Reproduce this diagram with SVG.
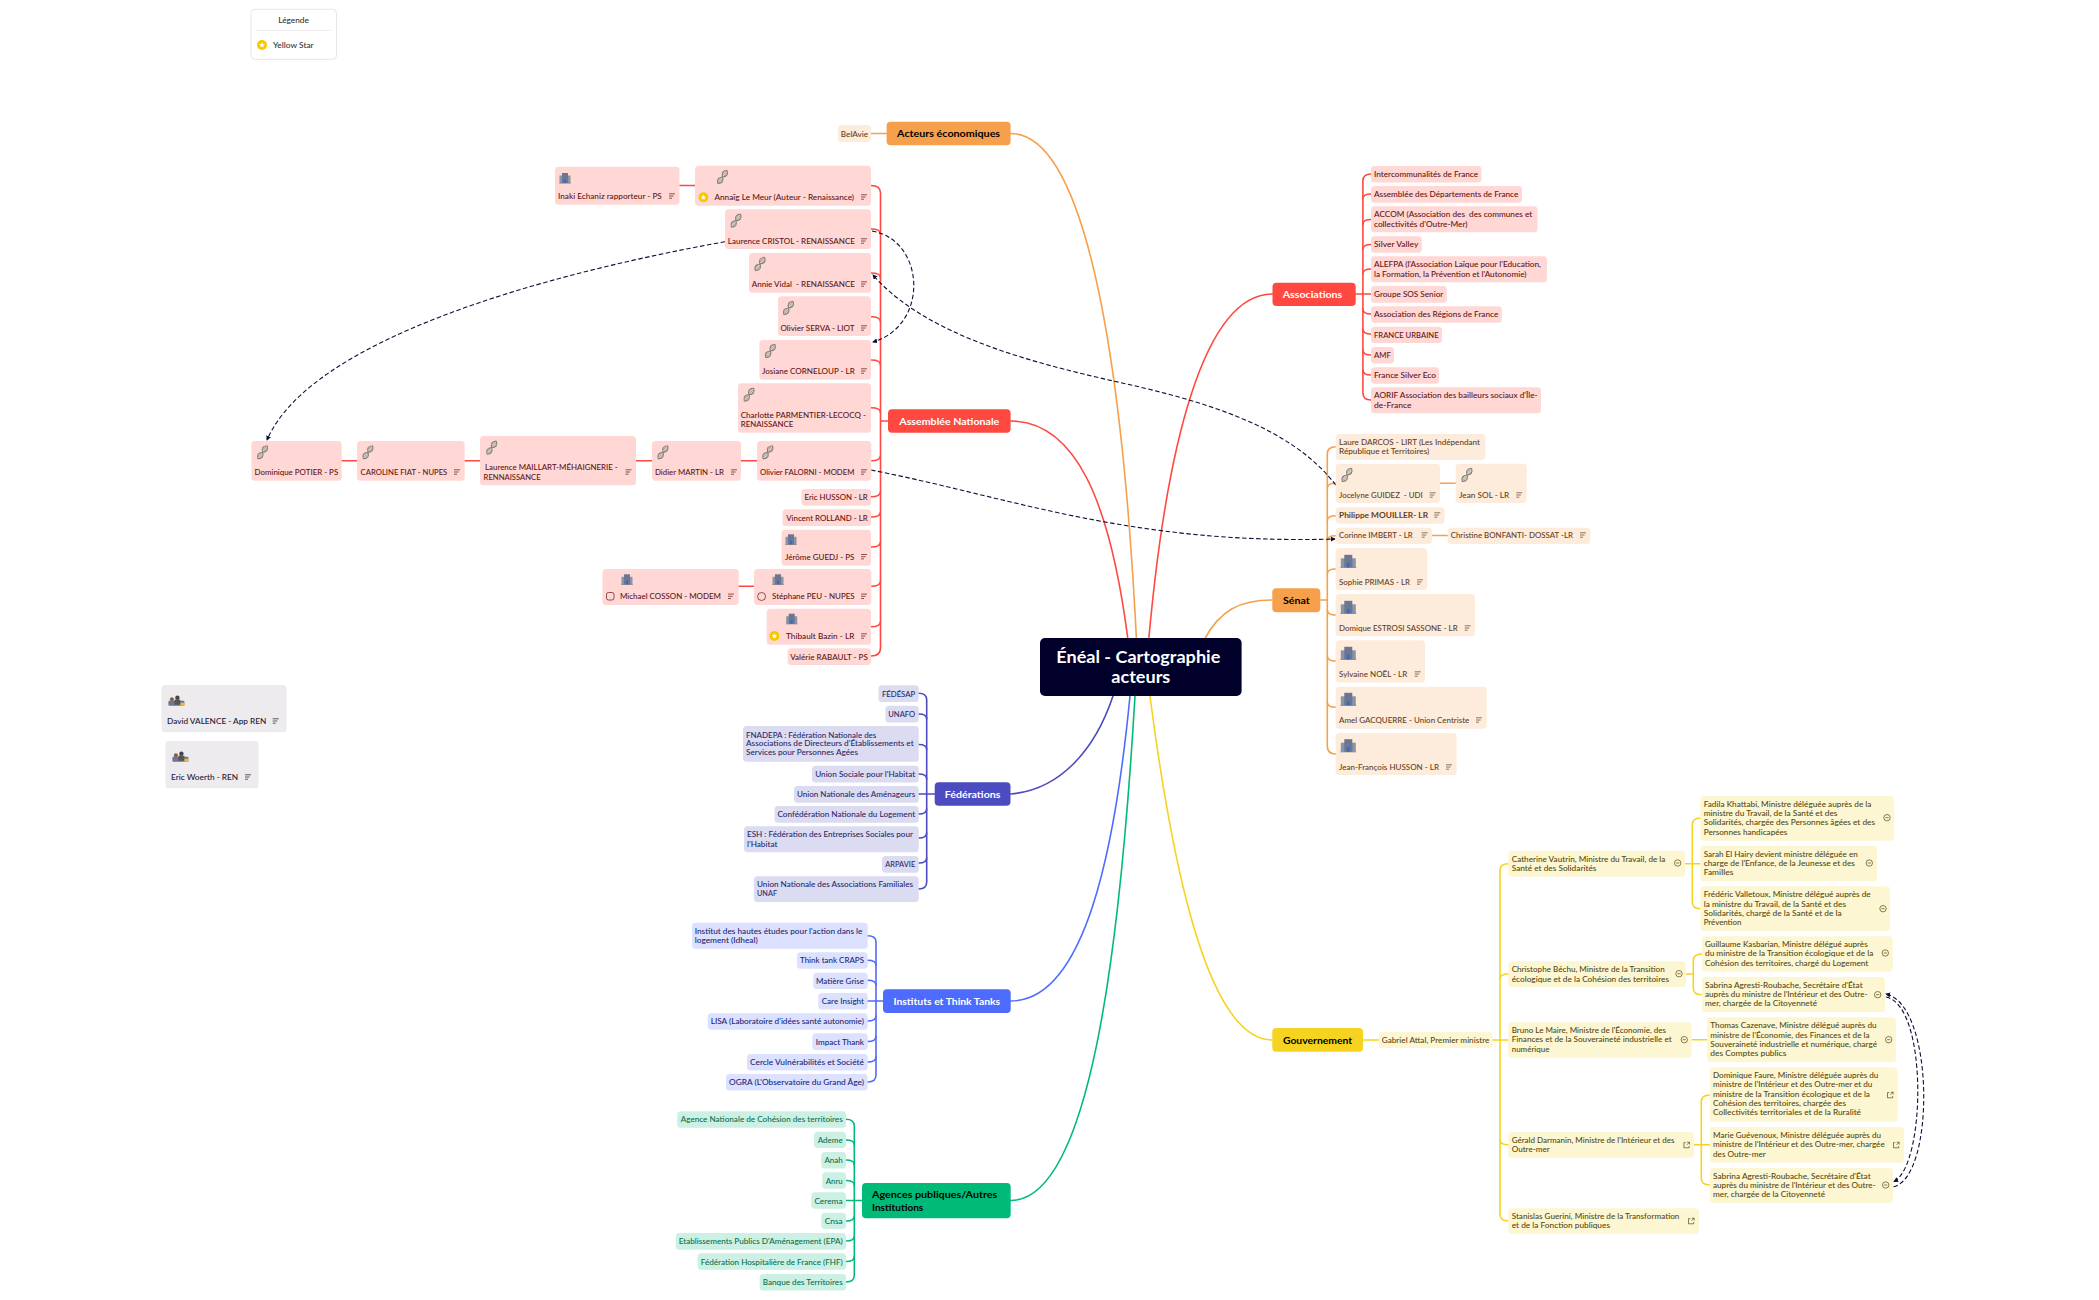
<svg xmlns="http://www.w3.org/2000/svg" width="2099" height="1300" viewBox="0 0 2099 1300">
<style>
text{font-family:"Lato","Noto Sans",sans-serif;dominant-baseline:central;font-size:7.6px;fill:currentColor;white-space:pre;font-weight:500}
.e{text-anchor:end}.c{text-anchor:middle}
.r>rect,.o>rect,.p>rect,.b>rect,.g>rect,.y>rect,.k>rect{rx:3.5px}
.r{color:#5e1414}.r>rect{fill:#ffd8d6}
.o{color:#63401c}.o>rect{fill:#fdecdc}
.p{color:#2a2968}.p>rect{fill:#dbdbf2}
.b{color:#1c2574}.b>rect{fill:#dbe1ff}
.g{color:#0c6e4a}.g>rect{fill:#ccf1e4}
.y{color:#544910}.y>rect{fill:#fdf6d3}
.k{color:#181838}.k>rect{fill:#edebee}
.main text{font-size:9.6px;font-weight:700}
.main rect{rx:4px}
.w{color:#fff}.d{color:#000}
.root rect{fill:#00002a;rx:5px}
.root text{font-size:17.5px;font-weight:700;fill:#fff}
.lines path{fill:none;stroke-width:1.6;stroke-linecap:round}
.lr path{stroke:#ff4940}.lo path{stroke:#f7a04b}.lp path{stroke:#4c4bbf}.lb path{stroke:#4e6bff}.lg path{stroke:#00bb77}.ly path{stroke:#f6d320}
.dash path{fill:none;stroke:#0e0e38;stroke-width:1.1;stroke-dasharray:4.5 2.5;marker-end:url(#a)}
.ic{fill:none;stroke:currentColor;stroke-width:.7}
</style>
<defs>
<marker id="a" viewBox="0 0 6 6" refX="5" refY="3" markerWidth="5" markerHeight="5" markerUnits="userSpaceOnUse" orient="auto"><path d="M0,0L6,3L0,6z" fill="#0e0e38"/></marker>
<g id="n" class="ic"><path d="M-3,-2.2h6M-3,0h4.6M-3,2.2h3"/></g>
<g id="m" class="ic"><circle r="3.2"/><path d="M-1.6,0h3.2"/></g>
<g id="x" class="ic"><path d="M-1,-2.4h-1.8v5.2h5.2v-1.8M.5,-2.8h2.3v2.3M2.8,-2.8l-2.6,2.6"/></g>
<g id="s"><circle r="5" fill="#f5c800"/><path d="M0,-2.8L.8,-.9L2.8,-.8L1.2,.5L1.7,2.4L0,1.4L-1.7,2.4L-1.2,.5L-2.8,-.8L-.8,-.9z" fill="#fff"/></g>
<g id="dna" transform="rotate(-55)"><path d="M-8,0Q-4,-5 0,0T8,0M-8,0Q-4,5 0,0T8,0" fill="none" stroke="#80807a" stroke-width="1.2"/><path d="M-5.5,-2.3V2.3M-4,-2.8V2.8M-2.5,-2.3V2.3M2.5,-2.3V2.3M4,-2.8V2.8M5.5,-2.3V2.3" fill="none" stroke="#9a9a92" stroke-width=".8"/></g>
<g id="bs"><rect x="-5.5" y="-2.5" width="11" height="7.5" fill="#8a94a6"/><rect x="-3" y="-5" width="6" height="10" fill="#6b7690"/><rect x="-1" y="1.5" width="2" height="3.5" fill="#3366dd"/><path d="M-5.8,5.2h11.6" stroke="#666" stroke-width=".6"/></g>
<g id="bl"><rect x="-7.5" y="-3" width="15" height="9" fill="#8a94a6"/><rect x="-4" y="-6.5" width="8" height="12.5" fill="#6b7690"/><rect x="-1.2" y="1.5" width="2.4" height="4.5" fill="#3366dd"/><path d="M-8,6.2h16" stroke="#666" stroke-width=".6"/></g>
<g id="pp"><rect x="-8" y="0" width="16" height="5" rx="1" fill="#6b7690"/><circle cx="-4.5" cy="-1.5" r="2" fill="#8a5a44"/><circle cx="1" cy="-3" r="2.2" fill="#444"/><rect x="-2" y="-1" width="6" height="5" fill="#555"/><rect x="4" y="2" width="4" height="3" fill="#f5b82e"/></g>
</defs>

<g id="connectors">
<g class="lines">
<g class="lo"><path d="M1010.6,133.5C1075,133.5 1120,300 1137,650"/><path d="M1272.3,600C1240,600 1220,610 1204,640"/><path d="M871,133.5H886.6"/>
<path d="M1320.3,600H1327.3"/><path d="M1335.7,446.7Q1327.3,446.7 1327.3,454V746Q1327.3,754 1335.7,754"/><path d="M1335.7,483.3q-8.4,0 -8.4,5"/><path d="M1335.7,515.7q-8.4,0 -8.4,5"/><path d="M1335.7,535.7q-8.4,0 -8.4,5"/><path d="M1335.7,569q-8.4,0 -8.4,5"/><path d="M1335.7,615q-8.4,0 -8.4,-5"/><path d="M1335.7,661q-8.4,0 -8.4,-5"/><path d="M1335.7,707.3q-8.4,0 -8.4,-5"/><path d="M1440,483.3H1455.7"/><path d="M1432,535.5H1447.7"/></g>
<g class="lr"><path d="M1010.6,421C1075,421 1110,500 1128,640"/><path d="M1272.5,294C1205,294 1165,440 1147,660"/>
<path d="M880.5,421H888"/><path d="M871,185.5Q880.5,185.5 880.5,193V648Q880.5,656 871,656"/><path d="M871,229q9.5,0 9.5,5"/><path d="M871,273q9.5,0 9.5,5"/><path d="M871,316.7q9.5,0 9.5,5"/><path d="M871,360q9.5,0 9.5,5"/><path d="M871,407.7q9.5,0 9.5,5"/><path d="M871,460.7q9.5,0 9.5,-5"/><path d="M871,496.7q9.5,0 9.5,-5"/><path d="M871,517q9.5,0 9.5,-5"/><path d="M871,547q9.5,0 9.5,-5"/><path d="M871,586.3q9.5,0 9.5,-5"/><path d="M871,626.7q9.5,0 9.5,-5"/>
<path d="M679.5,185.5H695"/><path d="M341.7,460.7H357"/><path d="M464.7,460.7H480"/><path d="M636,460.7H652"/><path d="M741,460.7H757"/><path d="M738.7,586.3H754"/>
<path d="M1355.7,294H1371"/><path d="M1371,174Q1362.9,174 1362.9,181V393Q1362.9,400 1371,400"/><path d="M1371,194q-8.1,0 -8.1,5"/><path d="M1371,219.5q-8.1,0 -8.1,5"/><path d="M1371,244.5q-8.1,0 -8.1,5"/><path d="M1371,269q-8.1,0 -8.1,5"/><path d="M1371,314q-8.1,0 -8.1,-5"/><path d="M1371,334q-8.1,0 -8.1,-5"/><path d="M1371,355q-8.1,0 -8.1,-5"/><path d="M1371,375q-8.1,0 -8.1,-5"/></g>
<g class="lp"><path d="M1010.5,794C1060,790 1095,750 1113,696"/><path d="M918.7,794H934.7"/><path d="M918.7,693.3Q926.7,693.3 926.7,700V882Q926.7,889 918.7,889"/><path d="M918.7,714q8,0 8,5"/><path d="M918.7,744.5q8,0 8,5"/><path d="M918.7,774q8,0 8,5"/><path d="M918.7,814q8,0 8,-5"/><path d="M918.7,838q8,0 8,-5"/><path d="M918.7,863q8,0 8,-5"/></g>
<g class="lb"><path d="M1010.7,1001C1085,1001 1115,850 1130,696"/><path d="M867.7,1001H883"/><path d="M867.7,935.7Q876,935.7 876,942V1075Q876,1082 867.7,1082"/><path d="M867.7,960.3q8.3,0 8.3,5"/><path d="M867.7,980.3q8.3,0 8.3,5"/><path d="M867.7,1021q8.3,0 8.3,-5"/><path d="M867.7,1041.5q8.3,0 8.3,-5"/><path d="M867.7,1062q8.3,0 8.3,-5"/></g>
<g class="lg"><path d="M1010.7,1200.5C1090,1200 1120,950 1135,696"/><path d="M846,1200.5H862"/><path d="M846,1119.3Q854.3,1119.3 854.3,1126V1275Q854.3,1282 846,1282"/><path d="M846,1140q8.3,0 8.3,5"/><path d="M846,1160q8.3,0 8.3,5"/><path d="M846,1180.5q8.3,0 8.3,5"/><path d="M846,1221q8.3,0 8.3,-5"/><path d="M846,1241q8.3,0 8.3,-5"/><path d="M846,1261.5q8.3,0 8.3,-5"/></g>
<g class="ly"><path d="M1272.3,1040C1205,1040 1170,850 1150,696"/><path d="M1363,1040H1378.7"/><path d="M1492.7,1040H1508.3"/><path d="M1508.3,863.7Q1500,863.7 1500,870V1214Q1500,1221 1508.3,1221"/><path d="M1508.3,974q-8.3,0 -8.3,5"/><path d="M1508.3,1144.7q-8.3,0 -8.3,-5"/>
<path d="M1685,863.7H1700.3"/><path d="M1700.3,818Q1692.3,818 1692.3,825V902Q1692.3,908.7 1700.3,908.7"/>
<path d="M1686,974H1693.3"/><path d="M1701.7,954Q1693.3,954 1693.3,961V988Q1693.3,994.7 1701.7,994.7"/>
<path d="M1691.7,1039.7H1707"/>
<path d="M1694,1144.7H1709.7"/><path d="M1709.7,1095Q1701.3,1095 1701.3,1102V1178Q1701.3,1185 1709.7,1185"/></g>
</g>
<g class="dash">
<path d="M725,241.7C540,275 310,340 267,440"/>
<path d="M872,231C925,240 930,325 873,342"/>
<path d="M1335.7,485C1290,425 1200,400 1112,380.7C1030,362 925,335 873,275"/>
<path d="M871,470C1010,497 1130,545 1335,539"/>
<path d="M1893.5,1186.7C1935,1178 1935,1005 1886,994"/>
<path d="M1886,997C1928,1005 1926,1165 1894,1181.5"/>
</g>
</g>

<g id="legend"><rect x="251" y="9.3" width="85.5" height="50" rx="4" fill="#fff" stroke="#e6e6e6" stroke-width="1"/><path d="M256,30.5H331" stroke="#eeeeee" stroke-width="1"/><text x="293.5" y="20" class="c" style="color:#333" textLength="30.6" lengthAdjust="spacingAndGlyphs">Légende</text><use href="#s" x="262" y="45"/><text x="273" y="45" style="color:#333" textLength="40.7" lengthAdjust="spacingAndGlyphs">Yellow Star</text></g>

<g id="root" class="root"><rect x="1040" y="638" width="201.6" height="58"/><text x="1138.3" y="656" class="c" textLength="164" lengthAdjust="spacingAndGlyphs">Énéal - Cartographie</text><text x="1140.8" y="676" class="c" textLength="59" lengthAdjust="spacingAndGlyphs">acteurs</text></g>

<g id="acteurs" class="main d"><rect x="886.6" y="121.7" width="124" height="23.6" style="fill:#f7a04b"/><text x="948.6" y="133.5" class="c" textLength="103" lengthAdjust="spacingAndGlyphs">Acteurs économiques</text></g>
<g id="belavie" class="o"><rect x="838" y="125" width="33" height="17"/><text x="854.5" y="133.5" class="c" textLength="27.3" lengthAdjust="spacingAndGlyphs">BelAvie</text></g>

<g id="assemblee" class="main w"><rect x="888" y="409.3" width="122.6" height="23.4" style="fill:#ff4940"/><text x="949.3" y="421" class="c" textLength="100" lengthAdjust="spacingAndGlyphs">Assemblée Nationale</text></g>
<g id="echaniz" class="r"><rect x="555" y="166.7" width="124.5" height="38"/><use href="#bs" x="565" y="178"/><text x="558" y="196" textLength="103.8" lengthAdjust="spacingAndGlyphs">Inaki Echaniz rapporteur - PS</text><use href="#n" x="672" y="196"/></g>
<g id="lemeur" class="r"><rect x="695" y="165.7" width="176" height="40"/><use href="#dna" x="722.5" y="177"/><use href="#s" x="703.4" y="197.3"/><text x="714.4" y="197" textLength="139.7" lengthAdjust="spacingAndGlyphs">Annaïg Le Meur (Auteur - Renaissance)</text><use href="#n" x="864" y="197"/></g>
<g id="cristol" class="r"><rect x="725" y="209.3" width="146" height="39.7"/><use href="#dna" x="736" y="220.7"/><text x="727.8" y="241" textLength="127.2" lengthAdjust="spacingAndGlyphs">Laurence CRISTOL - RENAISSANCE</text><use href="#n" x="864" y="241"/></g>
<g id="vidal" class="r"><rect x="749" y="253" width="122" height="39.7"/><use href="#dna" x="760" y="264"/><text x="751.7" y="284" textLength="103.3" lengthAdjust="spacingAndGlyphs">Annie Vidal  - RENAISSANCE</text><use href="#n" x="864" y="284"/></g>
<g id="serva" class="r"><rect x="778" y="296.3" width="93" height="39.7"/><use href="#dna" x="788.5" y="308"/><text x="780.4" y="328" textLength="74.1" lengthAdjust="spacingAndGlyphs">Olivier SERVA - LIOT</text><use href="#n" x="864" y="328"/></g>
<g id="corneloup" class="r"><rect x="759.4" y="340" width="111.6" height="39.7"/><use href="#dna" x="770.4" y="351"/><text x="762" y="371" textLength="92.8" lengthAdjust="spacingAndGlyphs">Josiane CORNELOUP - LR</text><use href="#n" x="864" y="371"/></g>
<g id="parmentier" class="r"><rect x="738" y="383.3" width="133" height="49.4"/><use href="#dna" x="749" y="394.7"/><text x="740.7" y="415" textLength="125.3" lengthAdjust="spacingAndGlyphs">Charlotte PARMENTIER-LECOCQ -</text><text x="740.7" y="424.3" textLength="52.6" lengthAdjust="spacingAndGlyphs">RENAISSANCE</text></g>
<g id="potier" class="r"><rect x="251.4" y="441" width="90.3" height="39.7"/><use href="#dna" x="262.6" y="452.3"/><text x="254.5" y="472" textLength="83.7" lengthAdjust="spacingAndGlyphs">Dominique POTIER - PS</text></g>
<g id="fiat" class="r"><rect x="357" y="441" width="107.7" height="39.7"/><use href="#dna" x="368" y="452.3"/><text x="360.6" y="472" textLength="86.7" lengthAdjust="spacingAndGlyphs">CAROLINE FIAT - NUPES</text><use href="#n" x="457" y="472"/></g>
<g id="maillart" class="r"><rect x="480" y="436" width="156" height="49.3"/><use href="#dna" x="491.7" y="447.7"/><text x="485" y="467" textLength="132.7" lengthAdjust="spacingAndGlyphs">Laurence MAILLART-MÉHAIGNERIE -</text><text x="483.6" y="477" textLength="57" lengthAdjust="spacingAndGlyphs">RENNAISSANCE</text><use href="#n" x="628.5" y="472"/></g>
<g id="martin" class="r"><rect x="652" y="441" width="89" height="39.7"/><use href="#dna" x="663" y="452.3"/><text x="655" y="472" textLength="68.9" lengthAdjust="spacingAndGlyphs">Didier MARTIN - LR</text><use href="#n" x="734" y="472"/></g>
<g id="falorni" class="r"><rect x="757" y="441" width="114.3" height="39.7"/><use href="#dna" x="767.8" y="452.3"/><text x="760" y="472" textLength="94.4" lengthAdjust="spacingAndGlyphs">Olivier FALORNI - MODEM</text><use href="#n" x="864" y="472"/></g>
<g id="husson" class="r"><rect x="801.4" y="489" width="69.6" height="16.7"/><text x="804.5" y="497.3" textLength="63.3" lengthAdjust="spacingAndGlyphs">Eric HUSSON - LR</text></g>
<g id="rolland" class="r"><rect x="782.5" y="509.3" width="88.5" height="16.7"/><text x="786.2" y="517.6" textLength="81.6" lengthAdjust="spacingAndGlyphs">Vincent ROLLAND - LR</text></g>
<g id="guedj" class="r"><rect x="781.5" y="529.7" width="89.5" height="36"/><use href="#bs" x="791" y="539.3"/><text x="785" y="556.7" textLength="69.4" lengthAdjust="spacingAndGlyphs">Jérôme GUEDJ - PS</text><use href="#n" x="864" y="556.7"/></g>
<g id="cosson" class="r"><rect x="602.4" y="569" width="136.3" height="36"/><use href="#bs" x="627" y="579.3"/><rect x="606.5" y="592.5" width="7.5" height="7.5" class="ic" style="fill:none;rx:2px"/><text x="620" y="596.3" textLength="101" lengthAdjust="spacingAndGlyphs">Michael COSSON - MODEM</text><use href="#n" x="731" y="596.3"/></g>
<g id="peu" class="r"><rect x="754" y="569" width="117.3" height="36"/><use href="#bs" x="778" y="579.3"/><circle cx="761.6" cy="596.5" r="4" class="ic"/><text x="772" y="596.3" textLength="82.7" lengthAdjust="spacingAndGlyphs">Stéphane PEU - NUPES</text><use href="#n" x="864" y="596.3"/></g>
<g id="bazin" class="r"><rect x="766.7" y="608.7" width="104.3" height="36"/><use href="#bs" x="791.7" y="618.7"/><use href="#s" x="774.4" y="636"/><text x="786" y="636" textLength="68.4" lengthAdjust="spacingAndGlyphs">Thibault Bazin - LR</text><use href="#n" x="864" y="636"/></g>
<g id="rabault" class="r"><rect x="787.6" y="648.3" width="83.4" height="16.7"/><text x="790.2" y="656.6" textLength="77.6" lengthAdjust="spacingAndGlyphs">Valérie RABAULT - PS</text></g>

<g id="valence" class="k"><rect x="161.5" y="685" width="125.1" height="47.3"/><use href="#pp" x="176.4" y="700.7"/><text x="167" y="721" textLength="99.3" lengthAdjust="spacingAndGlyphs">David VALENCE - App REN</text><use href="#n" x="275.7" y="721"/></g>
<g id="woerth" class="k"><rect x="165.5" y="741" width="93" height="47.3"/><use href="#pp" x="180.4" y="756.7"/><text x="171" y="777" textLength="67.2" lengthAdjust="spacingAndGlyphs">Eric Woerth - REN</text><use href="#n" x="248" y="777"/></g>

<g id="federations" class="main w"><rect x="934.7" y="782.3" width="75.8" height="23.4" style="fill:#4c4bbf"/><text x="972.6" y="794" class="c" textLength="55.7" lengthAdjust="spacingAndGlyphs">Fédérations</text></g>
<g id="fedesap" class="p"><rect x="878.5" y="685.3" width="40.2" height="16.7"/><text x="881.9" y="693.6" textLength="33.3" lengthAdjust="spacingAndGlyphs">FÉDÉSAP</text></g>
<g id="unafo" class="p"><rect x="885.4" y="705.7" width="33.3" height="16.7"/><text x="888.2" y="714" textLength="27" lengthAdjust="spacingAndGlyphs">UNAFO</text></g>
<g id="fnadepa" class="p"><rect x="743" y="726" width="175.7" height="35.7"/><text x="746" y="734.7" textLength="130.3" lengthAdjust="spacingAndGlyphs">FNADEPA : Fédération Nationale des</text><text x="746" y="743.3" textLength="167.6" lengthAdjust="spacingAndGlyphs">Associations de Directeurs d'Établissements et</text><text x="746" y="752.3" textLength="112" lengthAdjust="spacingAndGlyphs">Services pour Personnes Agées</text></g>
<g id="ush" class="p"><rect x="812" y="765.7" width="106.7" height="16.7"/><text x="815.2" y="774" textLength="100" lengthAdjust="spacingAndGlyphs">Union Sociale pour l'Habitat</text></g>
<g id="unam" class="p"><rect x="794" y="786" width="124.7" height="16.7"/><text x="796.9" y="794.3" textLength="118.3" lengthAdjust="spacingAndGlyphs">Union Nationale des Aménageurs</text></g>
<g id="cnl" class="p"><rect x="774.6" y="806" width="144.1" height="16.7"/><text x="777.4" y="814.3" textLength="137.8" lengthAdjust="spacingAndGlyphs">Confédération Nationale du Logement</text></g>
<g id="esh" class="p"><rect x="744" y="826.3" width="174.7" height="26"/><text x="747" y="834.3" textLength="166" lengthAdjust="spacingAndGlyphs">ESH : Fédération des Entreprises Sociales pour</text><text x="747" y="844" textLength="30.4" lengthAdjust="spacingAndGlyphs">l'Habitat</text></g>
<g id="arpavie" class="p"><rect x="882" y="856" width="36.7" height="16.7"/><text x="885.3" y="864.3" textLength="29.9" lengthAdjust="spacingAndGlyphs">ARPAVIE</text></g>
<g id="unaf" class="p"><rect x="754" y="876.3" width="164.7" height="25.7"/><text x="757" y="884.3" textLength="156" lengthAdjust="spacingAndGlyphs">Union Nationale des Associations Familiales</text><text x="757" y="893.3" textLength="20" lengthAdjust="spacingAndGlyphs">UNAF</text></g>

<g id="instituts" class="main w"><rect x="883" y="989.3" width="127.7" height="23.7" style="fill:#4e6bff"/><text x="946.8" y="1001" class="c" textLength="106.7" lengthAdjust="spacingAndGlyphs">Instituts et Think Tanks</text></g>
<g id="idheal" class="b"><rect x="692" y="922.7" width="175.7" height="26"/><text x="694.7" y="931" textLength="167.7" lengthAdjust="spacingAndGlyphs">Institut des hautes études pour l'action dans le</text><text x="694.7" y="940" textLength="63" lengthAdjust="spacingAndGlyphs">logement (Idheal)</text></g>
<g id="craps" class="b"><rect x="797" y="952.3" width="70.7" height="16.4"/><text x="800" y="960.3" textLength="64" lengthAdjust="spacingAndGlyphs">Think tank CRAPS</text></g>
<g id="matiere" class="b"><rect x="813.3" y="972.7" width="54.4" height="16.4"/><text x="816" y="980.5" textLength="48" lengthAdjust="spacingAndGlyphs">Matière Grise</text></g>
<g id="care" class="b"><rect x="818.3" y="993" width="49.4" height="16.4"/><text x="821.7" y="1001" textLength="42.3" lengthAdjust="spacingAndGlyphs">Care Insight</text></g>
<g id="lisa" class="b"><rect x="707.7" y="1013.3" width="160" height="16.4"/><text x="710.7" y="1021.3" textLength="153.3" lengthAdjust="spacingAndGlyphs">LISA (Laboratoire d'idées santé autonomie)</text></g>
<g id="impact" class="b"><rect x="812.3" y="1033.3" width="55.4" height="16.7"/><text x="815.7" y="1041.5" textLength="48.3" lengthAdjust="spacingAndGlyphs">Impact Thank</text></g>
<g id="cercle" class="b"><rect x="747" y="1054" width="120.7" height="16.4"/><text x="750" y="1062" textLength="114" lengthAdjust="spacingAndGlyphs">Cercle Vulnérabilités et Société</text></g>
<g id="ogra" class="b"><rect x="726" y="1074" width="141.7" height="16.4"/><text x="729" y="1082" textLength="135" lengthAdjust="spacingAndGlyphs">OGRA (L'Observatoire du Grand Âge)</text></g>

<g id="agences" class="main d"><rect x="862" y="1183" width="148.7" height="35.3" style="fill:#00bb77"/><text x="872" y="1194.3" textLength="125.3" lengthAdjust="spacingAndGlyphs">Agences publiques/Autres</text><text x="872" y="1207.3" textLength="51.3" lengthAdjust="spacingAndGlyphs">Institutions</text></g>
<g id="anct" class="g"><rect x="677.3" y="1111.3" width="168.7" height="16.4"/><text x="680.7" y="1119.3" textLength="162" lengthAdjust="spacingAndGlyphs">Agence Nationale de Cohésion des territoires</text></g>
<g id="ademe" class="g"><rect x="814" y="1131.7" width="32" height="16.4"/><text x="817.7" y="1139.7" textLength="25" lengthAdjust="spacingAndGlyphs">Ademe</text></g>
<g id="anah" class="g"><rect x="821.3" y="1152" width="24.7" height="16.4"/><text x="824.4" y="1160" textLength="18.3" lengthAdjust="spacingAndGlyphs">Anah</text></g>
<g id="anru" class="g"><rect x="822.3" y="1172.3" width="23.7" height="16.4"/><text x="825.7" y="1180.5" textLength="17" lengthAdjust="spacingAndGlyphs">Anru</text></g>
<g id="cerema" class="g"><rect x="811.3" y="1192.3" width="34.7" height="16.4"/><text x="814.4" y="1200.5" textLength="28.3" lengthAdjust="spacingAndGlyphs">Cerema</text></g>
<g id="cnsa" class="g"><rect x="821.3" y="1212.7" width="24.7" height="16.4"/><text x="824.7" y="1221" textLength="18" lengthAdjust="spacingAndGlyphs">Cnsa</text></g>
<g id="epa" class="g"><rect x="675.7" y="1233" width="170.3" height="16.7"/><text x="678.7" y="1241" textLength="164" lengthAdjust="spacingAndGlyphs">Etablissements Publics D'Aménagement (EPA)</text></g>
<g id="fhf" class="g"><rect x="697.7" y="1253.3" width="148.3" height="16.4"/><text x="700.7" y="1261.5" textLength="142" lengthAdjust="spacingAndGlyphs">Fédération Hospitalière de France (FHF)</text></g>
<g id="banque" class="g"><rect x="759.7" y="1274" width="86.3" height="16.4"/><text x="762.7" y="1282" textLength="80" lengthAdjust="spacingAndGlyphs">Banque des Territoires</text></g>

<g id="associations" class="main w"><rect x="1272.5" y="282.7" width="83.2" height="23.3" style="fill:#ff4940"/><text x="1312.5" y="294" class="c" textLength="59.6" lengthAdjust="spacingAndGlyphs">Associations</text></g>
<g id="intercom" class="r"><rect x="1371" y="166" width="110.4" height="16.4"/><text x="1374" y="174" textLength="104" lengthAdjust="spacingAndGlyphs">Intercommunalités de France</text></g>
<g id="adf" class="r"><rect x="1371" y="186" width="151" height="16.7"/><text x="1374" y="194" textLength="144.3" lengthAdjust="spacingAndGlyphs">Assemblée des Départements de France</text></g>
<g id="accom" class="r"><rect x="1371" y="206.3" width="166.5" height="26"/><text x="1374" y="214" textLength="158.2" lengthAdjust="spacingAndGlyphs">ACCOM (Association des  des communes et</text><text x="1374" y="224" textLength="93.6" lengthAdjust="spacingAndGlyphs">collectivités d'Outre-Mer)</text></g>
<g id="silver" class="r"><rect x="1371" y="236.3" width="50.8" height="16.4"/><text x="1374" y="244" textLength="44.3" lengthAdjust="spacingAndGlyphs">Silver Valley</text></g>
<g id="alefpa" class="r"><rect x="1371" y="256.3" width="176" height="26"/><text x="1374" y="264" textLength="167" lengthAdjust="spacingAndGlyphs">ALEFPA (l'Association Laïque pour l'Education,</text><text x="1374" y="274" textLength="152.5" lengthAdjust="spacingAndGlyphs">la Formation, la Prévention et l'Autonomie)</text></g>
<g id="sos" class="r"><rect x="1371" y="286" width="75.8" height="16.7"/><text x="1374" y="294" textLength="69.3" lengthAdjust="spacingAndGlyphs">Groupe SOS Senior</text></g>
<g id="regions" class="r"><rect x="1371" y="306.3" width="130.8" height="16.4"/><text x="1374" y="314" textLength="124.3" lengthAdjust="spacingAndGlyphs">Association des Régions de France</text></g>
<g id="urbaine" class="r"><rect x="1371" y="326.7" width="71" height="16.4"/><text x="1374" y="335" textLength="64.6" lengthAdjust="spacingAndGlyphs">FRANCE URBAINE</text></g>
<g id="amf" class="r"><rect x="1371" y="347" width="23" height="16.4"/><text x="1374" y="355" textLength="16.8" lengthAdjust="spacingAndGlyphs">AMF</text></g>
<g id="silvereco" class="r"><rect x="1371" y="367.3" width="68" height="16.4"/><text x="1374" y="375" textLength="62" lengthAdjust="spacingAndGlyphs">France Silver Eco</text></g>
<g id="aorif" class="r"><rect x="1371" y="387.3" width="170" height="26"/><text x="1374" y="395" textLength="163.6" lengthAdjust="spacingAndGlyphs">AORIF Association des bailleurs sociaux d'Île-</text><text x="1374" y="405" textLength="37.5" lengthAdjust="spacingAndGlyphs">de-France</text></g>

<g id="senat" class="main d"><rect x="1272.3" y="588.3" width="48" height="24" style="fill:#f7a04b"/><text x="1296.3" y="600" class="c" textLength="26.7" lengthAdjust="spacingAndGlyphs">Sénat</text></g>
<g id="darcos" class="o"><rect x="1335.7" y="434" width="149.6" height="26"/><text x="1339" y="442.3" textLength="141" lengthAdjust="spacingAndGlyphs">Laure DARCOS - LIRT (Les Indépendant</text><text x="1339" y="451" textLength="90.3" lengthAdjust="spacingAndGlyphs">République et Territoires)</text></g>
<g id="guidez" class="o"><rect x="1335.7" y="463.7" width="104.3" height="39.3"/><use href="#dna" x="1347" y="475"/><text x="1339" y="495" textLength="83.7" lengthAdjust="spacingAndGlyphs">Jocelyne GUIDEZ  - UDI</text><use href="#n" x="1432.7" y="495"/></g>
<g id="sol" class="o"><rect x="1455.7" y="463.7" width="71" height="39.3"/><use href="#dna" x="1467" y="475"/><text x="1459" y="495" textLength="50.3" lengthAdjust="spacingAndGlyphs">Jean SOL - LR</text><use href="#n" x="1519.3" y="495"/></g>
<g id="mouiller" class="o"><rect x="1335.7" y="507.3" width="109" height="16.4"/><text x="1339" y="515" style="font-weight:700" textLength="89" lengthAdjust="spacingAndGlyphs">Philippe MOUILLER- LR</text><use href="#n" x="1437.3" y="515"/></g>
<g id="imbert" class="o"><rect x="1335.7" y="527.7" width="96.3" height="16.4"/><text x="1339" y="535" textLength="73.7" lengthAdjust="spacingAndGlyphs">Corinne IMBERT - LR</text><use href="#n" x="1424.7" y="535"/></g>
<g id="bonfanti" class="o"><rect x="1447.7" y="527.7" width="142.6" height="16.4"/><text x="1450.7" y="535" textLength="122.3" lengthAdjust="spacingAndGlyphs">Christine BONFANTI- DOSSAT -LR</text><use href="#n" x="1583" y="535"/></g>
<g id="primas" class="o"><rect x="1335.7" y="548" width="91.6" height="42"/><use href="#bl" x="1348.3" y="561.3"/><text x="1339" y="582" textLength="71" lengthAdjust="spacingAndGlyphs">Sophie PRIMAS - LR</text><use href="#n" x="1420" y="582"/></g>
<g id="estrosi" class="o"><rect x="1335.7" y="594" width="139.3" height="42.3"/><use href="#bl" x="1348.3" y="607.3"/><text x="1339" y="628" textLength="118.7" lengthAdjust="spacingAndGlyphs">Domique ESTROSI SASSONE - LR</text><use href="#n" x="1467.7" y="628"/></g>
<g id="noel" class="o"><rect x="1335.7" y="640.3" width="89.3" height="42.3"/><use href="#bl" x="1348.3" y="653.3"/><text x="1339" y="674" textLength="68.3" lengthAdjust="spacingAndGlyphs">Sylvaine NOËL - LR</text><use href="#n" x="1417.7" y="674"/></g>
<g id="gacquerre" class="o"><rect x="1335.7" y="686.7" width="151" height="42"/><use href="#bl" x="1348.3" y="699.3"/><text x="1339" y="720" textLength="130.3" lengthAdjust="spacingAndGlyphs">Amel GACQUERRE - Union Centriste</text><use href="#n" x="1479" y="720"/></g>
<g id="jfhusson" class="o"><rect x="1335.7" y="733" width="121" height="42"/><use href="#bl" x="1348.3" y="745.7"/><text x="1339" y="767" textLength="100" lengthAdjust="spacingAndGlyphs">Jean-François HUSSON - LR</text><use href="#n" x="1449" y="767"/></g>

<g id="gouvernement" class="main d"><rect x="1272.3" y="1028" width="90.7" height="23.7" style="fill:#f6d320"/><text x="1317.6" y="1040" class="c" textLength="69.3" lengthAdjust="spacingAndGlyphs">Gouvernement</text></g>
<g id="attal" class="y"><rect x="1378.7" y="1031.7" width="114" height="16.4"/><text x="1381.7" y="1040" textLength="107.7" lengthAdjust="spacingAndGlyphs">Gabriel Attal, Premier ministre</text></g>
<g id="vautrin" class="y"><rect x="1508.3" y="850.7" width="176.7" height="26"/><text x="1511.7" y="859" textLength="153.7" lengthAdjust="spacingAndGlyphs">Catherine Vautrin, Ministre du Travail, de la</text><text x="1511.7" y="868" textLength="84.7" lengthAdjust="spacingAndGlyphs">Santé et des Solidarités</text><use href="#m" x="1677.7" y="863"/></g>
<g id="khattabi" class="y"><rect x="1700.3" y="796" width="194" height="44.7"/><text x="1703.7" y="804" textLength="167.7" lengthAdjust="spacingAndGlyphs">Fadila Khattabi, Ministre déléguée auprès de la</text><text x="1703.7" y="813" textLength="133.7" lengthAdjust="spacingAndGlyphs">ministre du Travail, de la Santé et des</text><text x="1703.7" y="822.3" textLength="171.3" lengthAdjust="spacingAndGlyphs">Solidarités, chargée des Personnes âgées et des</text><text x="1703.7" y="832" textLength="83.7" lengthAdjust="spacingAndGlyphs">Personnes handicapées</text><use href="#m" x="1887" y="817.7"/></g>
<g id="elhairy" class="y"><rect x="1700.3" y="845.7" width="176.7" height="35.6"/><text x="1703.7" y="854" textLength="154" lengthAdjust="spacingAndGlyphs">Sarah El Hairy devient ministre déléguée en</text><text x="1703.7" y="863" textLength="151.3" lengthAdjust="spacingAndGlyphs">charge de l'Enfance, de la Jeunesse et des</text><text x="1703.7" y="872" textLength="29.7" lengthAdjust="spacingAndGlyphs">Familles</text><use href="#m" x="1869.3" y="863"/></g>
<g id="valletoux" class="y"><rect x="1700.3" y="886.3" width="189.7" height="44.7"/><text x="1703.7" y="894" textLength="167" lengthAdjust="spacingAndGlyphs">Frédéric Valletoux, Ministre délégué auprès de</text><text x="1703.7" y="904" textLength="142.3" lengthAdjust="spacingAndGlyphs">la ministre du Travail, de la Santé et des</text><text x="1703.7" y="913" textLength="138" lengthAdjust="spacingAndGlyphs">Solidarités, chargé de la Santé et de la</text><text x="1703.7" y="922" textLength="37.7" lengthAdjust="spacingAndGlyphs">Prévention</text><use href="#m" x="1883" y="908.7"/></g>
<g id="bechu" class="y"><rect x="1508.3" y="961.3" width="177.7" height="25.7"/><text x="1511.7" y="969" textLength="153" lengthAdjust="spacingAndGlyphs">Christophe Béchu, Ministre de la Transition</text><text x="1511.7" y="979" textLength="157.3" lengthAdjust="spacingAndGlyphs">écologique et de la Cohésion des territoires</text><use href="#m" x="1679" y="973.7"/></g>
<g id="kasbarian" class="y"><rect x="1701.7" y="936.3" width="191" height="35.4"/><text x="1705" y="944" textLength="162.7" lengthAdjust="spacingAndGlyphs">Guillaume Kasbarian, Ministre délégué auprès</text><text x="1705" y="953" textLength="168.3" lengthAdjust="spacingAndGlyphs">du ministre de la Transition écologique et de la</text><text x="1705" y="963" textLength="163.3" lengthAdjust="spacingAndGlyphs">Cohésion des territoires, chargé du Logement</text><use href="#m" x="1885.3" y="953"/></g>
<g id="agresti1" class="y"><rect x="1701.7" y="977" width="183.3" height="35.3"/><text x="1705" y="985" textLength="157.7" lengthAdjust="spacingAndGlyphs">Sabrina Agresti-Roubache, Secrétaire d'État</text><text x="1705" y="994" textLength="162.7" lengthAdjust="spacingAndGlyphs">auprès du ministre de l'Intérieur et des Outre-</text><text x="1705" y="1003" textLength="112" lengthAdjust="spacingAndGlyphs">mer, chargée de la Citoyenneté</text><use href="#m" x="1877.7" y="994.7"/></g>
<g id="lemaire" class="y"><rect x="1508.3" y="1022.3" width="183.4" height="35.4"/><text x="1511.7" y="1030" textLength="154.3" lengthAdjust="spacingAndGlyphs">Bruno Le Maire, Ministre de l'Économie, des</text><text x="1511.7" y="1039" textLength="160" lengthAdjust="spacingAndGlyphs">Finances et de la Souveraineté industrielle et</text><text x="1511.7" y="1049" textLength="37.7" lengthAdjust="spacingAndGlyphs">numérique</text><use href="#m" x="1684.3" y="1039.7"/></g>
<g id="cazenave" class="y"><rect x="1707" y="1017.3" width="189" height="45"/><text x="1710.3" y="1025" textLength="166.3" lengthAdjust="spacingAndGlyphs">Thomas Cazenave, Ministre délégué auprès du</text><text x="1710.3" y="1035" textLength="159.3" lengthAdjust="spacingAndGlyphs">ministre de l'Économie, des Finances et de la</text><text x="1710.3" y="1044" textLength="166.7" lengthAdjust="spacingAndGlyphs">Souveraineté industrielle et numérique, chargé</text><text x="1710.3" y="1053" textLength="76" lengthAdjust="spacingAndGlyphs">des Comptes publics</text><use href="#m" x="1888.7" y="1039.7"/></g>
<g id="darmanin" class="y"><rect x="1508.3" y="1132" width="185.7" height="25.7"/><text x="1511.7" y="1140" textLength="162.7" lengthAdjust="spacingAndGlyphs">Gérald Darmanin, Ministre de l'Intérieur et des</text><text x="1511.7" y="1149" textLength="38" lengthAdjust="spacingAndGlyphs">Outre-mer</text><use href="#x" x="1686.7" y="1145"/></g>
<g id="faure" class="y"><rect x="1709.7" y="1067.3" width="188" height="54.4"/><text x="1713" y="1075" textLength="165.3" lengthAdjust="spacingAndGlyphs">Dominique Faure, Ministre déléguée auprès du</text><text x="1713" y="1084" textLength="159.3" lengthAdjust="spacingAndGlyphs">ministre de l'Intérieur et des Outre-mer et du</text><text x="1713" y="1094" textLength="157" lengthAdjust="spacingAndGlyphs">ministre de la Transition écologique et de la</text><text x="1713" y="1103" textLength="133" lengthAdjust="spacingAndGlyphs">Cohésion des territoires, chargée des</text><text x="1713" y="1112" textLength="148" lengthAdjust="spacingAndGlyphs">Collectivités territoriales et de la Ruralité</text><use href="#x" x="1890.3" y="1095"/></g>
<g id="guevenoux" class="y"><rect x="1709.7" y="1127" width="194.3" height="35.7"/><text x="1713" y="1135" textLength="168" lengthAdjust="spacingAndGlyphs">Marie Guévenoux, Ministre déléguée auprès du</text><text x="1713" y="1144" textLength="171.7" lengthAdjust="spacingAndGlyphs">ministre de l'Intérieur et des Outre-mer, chargée</text><text x="1713" y="1154" textLength="52.7" lengthAdjust="spacingAndGlyphs">des Outre-mer</text><use href="#x" x="1896.3" y="1145"/></g>
<g id="agresti2" class="y"><rect x="1709.7" y="1168" width="183.3" height="35"/><text x="1713" y="1176" textLength="157.7" lengthAdjust="spacingAndGlyphs">Sabrina Agresti-Roubache, Secrétaire d'État</text><text x="1713" y="1185" textLength="162.7" lengthAdjust="spacingAndGlyphs">auprès du ministre de l'Intérieur et des Outre-</text><text x="1713" y="1194" textLength="112" lengthAdjust="spacingAndGlyphs">mer, chargée de la Citoyenneté</text><use href="#m" x="1885.7" y="1185"/></g>
<g id="guerini" class="y"><rect x="1508.3" y="1208.3" width="190.7" height="25.4"/><text x="1511.7" y="1216" textLength="167.7" lengthAdjust="spacingAndGlyphs">Stanislas Guerini, Ministre de la Transformation</text><text x="1511.7" y="1225" textLength="98.3" lengthAdjust="spacingAndGlyphs">et de la Fonction publiques</text><use href="#x" x="1691.3" y="1221"/></g>
</svg>
